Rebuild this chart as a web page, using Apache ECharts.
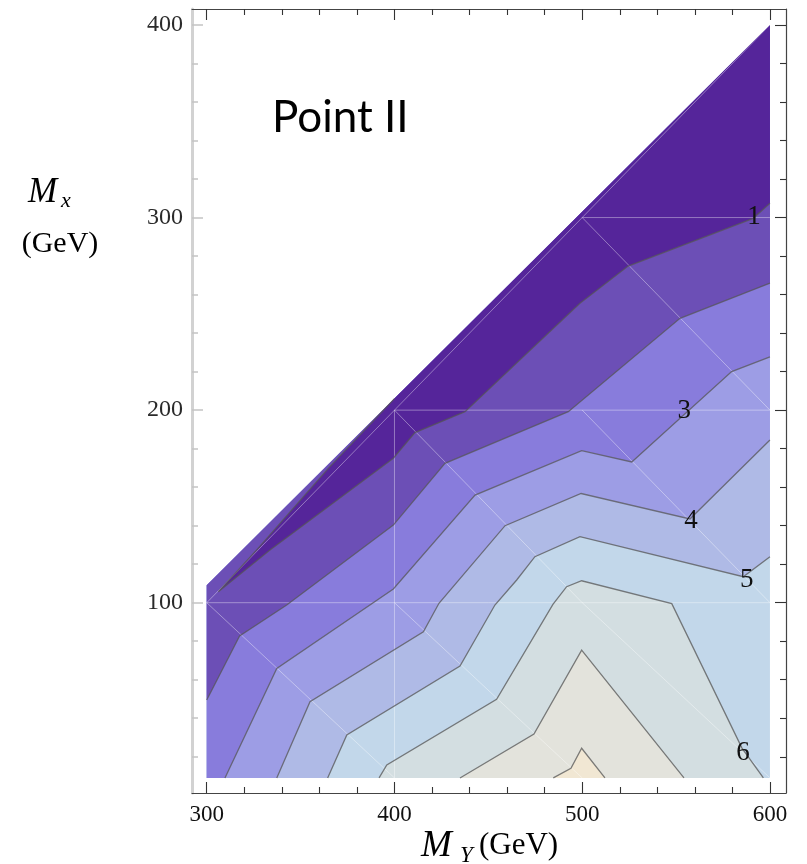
<!DOCTYPE html>
<html><head><meta charset="utf-8">
<script src="https://cdn.jsdelivr.net/npm/echarts@6/dist/echarts.min.js"></script>
<style>html,body{margin:0;padding:0;background:#fff}#c{width:807px;height:864px}</style>
</head><body><div id="c"></div>
<script>
// ---- tick values ----
const xMajorTicks = [300, 400, 500, 600];
const xMinorTicks = [320, 340, 360, 380, 420, 440, 460, 480, 520, 540, 560, 580];
const yMajorTicks = [100, 200, 300, 400];
const yMinorTicks = [20, 40, 60, 80, 120, 140, 160, 180, 220, 240, 260, 280, 320, 340, 360, 380];

// ---- data domain (M_Y, M_x) ----
const yBottom = 9;
const domainTopLeft = [300, 109];
const domainTopRight = [600, 400];

// ---- contour lines [M_Y, M_x] ----
const contour1Lower = [[306.2,105.7],[333.7,127.4],[399.4,175.0],[410.9,188.3],[437.6,199.2],[498.8,255.5],[524.5,274.8],[591.1,299.6],[600,307.4]];
const contour1Upper = [[306.2,105.7],[326.6,127.4],[365,170],[400,206]];
const contour2 = [[300,49.5],[317.5,82.7],[342.6,98.8],[399.4,140.3],[426.9,172.4],[492.6,199.2],[552.1,247.7],[600,265.9]];
const contour3 = [[309.7,9],[337.3,65.9],[399.4,107.1],[442.9,155.9],[499.7,179.0],[526.4,173.1],[579.6,220.0],[600,227.7]];
const contour4 = [[337.3,9],[355.0,48.6],[415.4,84.9],[423.7,99.7],[458.9,140.0],[499.4,156.7],[557.4,143.5],[600,184.5]];
const contour5 = [[364.4,9],[374.6,31.3],[434.9,67.1],[453.5,98.8],[465.1,111.8],[474.8,123.9],[498.8,134.3],[585.8,113.5],[600,123.9]];
const contour6 = [[391.8,9],[395.9,15.7],[454.4,49.8],[484.4,99.1],[491.7,108.3],[499.7,111.4],[547.7,99.5],[585.1,24.5],[596.5,9]];
const contour7 = [[434.9,9],[474.3,31.8],[499.7,75.4],[554.2,9]];
const contour8 = [[484.6,9],[494.0,14.0],[499.7,24.4],[512.1,9]];

// ---- contour labels [M_Y, M_x, text] ----
const contourLabels = [[591.5,300.1,'1'],[554.4,199.7,'3'],[557.9,142.5,'4'],[587.6,111.8,'5'],[585.6,21.8,'6']];

// ---- mesh (triangulation) lines ----
const meshLines = [
  [[300,100],[600,100]], [[400,200],[600,200]], [[500,300],[600,300]],
  [[400,200],[400,9]],
  [[300,100],[400,200],[500,300],[600,400]],
  [[500,300],[600,200]], [[400,200],[500,100],[600,9]], [[500,200],[600,100]],
  [[300,100],[400,9]], [[400,100],[500,9]]
];

// ---- band colours (lowest to highest) ----
const bandColors = ['#55259A','#6C4FB6','#887CDC','#9D9DE5','#AFBAE6','#C2D7EA','#D3DEE1','#E3E3DC','#F1E7D3'];

const X_MIN = 292.15, X_MAX = 608.55, Y_MIN = 1.18, Y_MAX = 408.3;

const BL = [300, yBottom], BR = [600, yBottom];
const regions = [
  { pts: [BL, BR, domainTopRight, domainTopLeft], color: bandColors[5] },
  { pts: [BL, ...contour5, domainTopRight, domainTopLeft], color: bandColors[4] },
  { pts: [BL, ...contour4, domainTopRight, domainTopLeft], color: bandColors[3] },
  { pts: [BL, ...contour3, domainTopRight, domainTopLeft], color: bandColors[2] },
  { pts: [...contour2, domainTopRight, domainTopLeft], color: bandColors[1] },
  { pts: [...contour1Lower, domainTopRight, ...contour1Upper.slice(1).reverse()], color: bandColors[0] },
  { pts: contour6, color: bandColors[6] },
  { pts: contour7, color: bandColors[7] },
  { pts: contour8, color: bandColors[8] }
];
const contourPaths = [
  [...contour1Upper.slice(1).reverse(), ...contour1Lower],
  contour2, contour3, contour4, contour5, contour6, contour7, contour8
];

const serif = '"Liberation Serif", "Times New Roman", serif';

function xAxisDef(position, ticks, len, showLine, showLabel) {
  return {
    type: 'value', position: position, min: X_MIN, max: X_MAX,
    axisLine: { show: showLine, onZero: false, lineStyle: { color: '#444', width: 1.2 } },
    axisTick: { show: true, inside: true, length: len, customValues: ticks, lineStyle: { color: '#333', width: 1.1 } },
    axisLabel: showLabel ? { show: true, customValues: ticks, margin: 10, fontSize: 23, fontFamily: serif, color: '#111' } : { show: false },
    splitLine: { show: false }, minorTick: { show: false }
  };
}
function yAxisDef(position, ticks, len, showLine, showLabel, light) {
  return {
    type: 'value', position: position, min: Y_MIN, max: Y_MAX,
    axisLine: { show: showLine, onZero: false, lineStyle: light ? { color: '#d2d2d2', width: 3 } : { color: '#444', width: 1.2 } },
    axisTick: { show: true, inside: true, length: len, customValues: ticks, lineStyle: { color: light ? '#c4c4c4' : '#333', width: light ? 1.5 : 1.1 } },
    axisLabel: showLabel ? { show: true, customValues: ticks, margin: 9, fontSize: 24, fontFamily: serif, color: '#2a2a2a' } : { show: false },
    splitLine: { show: false }, minorTick: { show: false }
  };
}

const chart = echarts.init(document.getElementById('c'), null, { renderer: 'canvas' });
chart.setOption({
  animation: false,
  backgroundColor: '#fff',
  grid: { left: 192, right: 21, top: 9, bottom: 71, containLabel: false, outerBoundsMode: 'none' },
  xAxis: [
    xAxisDef('bottom', xMajorTicks, 11, true, true),
    xAxisDef('bottom', xMinorTicks, 6, false, false),
    xAxisDef('top', xMajorTicks, 11, true, false),
    xAxisDef('top', xMinorTicks, 6, false, false)
  ],
  yAxis: [
    yAxisDef('left', yMajorTicks, 11, true, true, true),
    yAxisDef('left', yMinorTicks, 6, false, false, true),
    yAxisDef('right', yMajorTicks, 11, true, false, false),
    yAxisDef('right', yMinorTicks, 6, false, false, false)
  ],
  series: [
    {
      type: 'custom', name: 'bands', coordinateSystem: 'cartesian2d', silent: true, z: 1,
      data: regions.map(r => [r.pts[0][0], r.pts[0][1]]),
      renderItem: (params, api) => {
        const r = regions[params.dataIndex];
        return { type: 'polygon', z2: params.dataIndex, shape: { points: r.pts.map(p => api.coord(p)) }, style: { fill: r.color } };
      }
    },
    {
      type: 'custom', name: 'mesh', coordinateSystem: 'cartesian2d', silent: true, z: 2,
      data: meshLines.map(l => [l[0][0], l[0][1]]),
      renderItem: (params, api) => ({
        type: 'polyline', shape: { points: meshLines[params.dataIndex].map(p => api.coord(p)) },
        style: { stroke: 'rgba(255,255,255,0.38)', lineWidth: 1, fill: null }
      })
    },
    {
      type: 'custom', name: 'contours', coordinateSystem: 'cartesian2d', silent: true, z: 3,
      data: contourPaths.map(l => [l[0][0], l[0][1]]),
      renderItem: (params, api) => ({
        type: 'polyline', shape: { points: contourPaths[params.dataIndex].map(p => api.coord(p)) },
        style: { stroke: 'rgba(85,85,85,0.75)', lineWidth: 1.3, fill: null }
      })
    },
    {
      type: 'custom', name: 'labels', coordinateSystem: 'cartesian2d', silent: true, z: 4,
      data: contourLabels.map(l => [l[0], l[1]]),
      renderItem: (params, api) => {
        const p = api.coord([api.value(0), api.value(1)]);
        return {
          type: 'text', x: p[0], y: p[1],
          style: { text: contourLabels[params.dataIndex][2], font: '27px ' + serif, fill: '#111',
                   textAlign: 'center', textVerticalAlign: 'middle', align: 'center', verticalAlign: 'middle' }
        };
      }
    }
  ],
  graphic: [
    { type: 'text', x: 272, y: 118, style: { text: 'Point II', font: '44px Lato', fill: '#000', textVerticalAlign: 'middle' } },
    { type: 'text', x: 28, y: 193, style: { text: 'M', font: 'italic 35px ' + serif, fill: '#000', textVerticalAlign: 'middle' } },
    { type: 'text', x: 61, y: 201, style: { text: 'x', font: 'italic 22px ' + serif, fill: '#000', textVerticalAlign: 'middle' } },
    { type: 'text', x: 60, y: 244, style: { text: '(GeV)', font: '30px ' + serif, fill: '#000', textAlign: 'center', textVerticalAlign: 'middle' } },
    { type: 'text', x: 421, y: 846, style: { text: 'M', font: 'italic 37px ' + serif, fill: '#000', textVerticalAlign: 'middle' } },
    { type: 'text', x: 460, y: 856, style: { text: 'Y', font: 'italic 23px ' + serif, fill: '#000', textVerticalAlign: 'middle' } },
    { type: 'text', x: 479, y: 846, style: { text: '(GeV)', font: '31px ' + serif, fill: '#000', textVerticalAlign: 'middle' } }
  ]
});
</script>
</body></html>
